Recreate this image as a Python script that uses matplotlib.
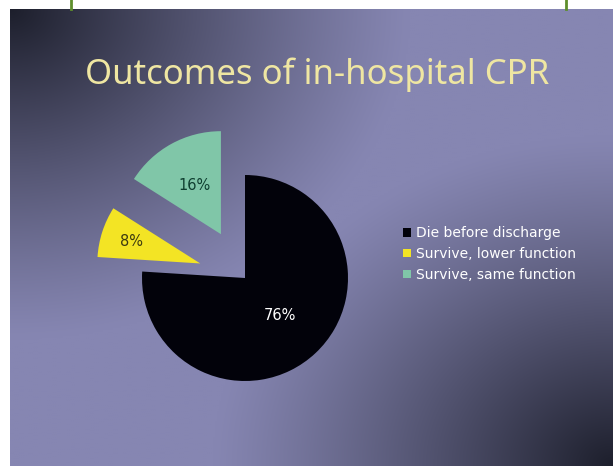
import numpy as np
import matplotlib
matplotlib.use("Agg")
import matplotlib.pyplot as plt
from matplotlib.lines import Line2D

# ---- data ----
title = "Outcomes of in-hospital CPR"
categories = ["Die before discharge", "Survive, lower function", "Survive, same function"]
values = [76, 8, 16]
pct_labels = ["76%", "8%", "16%"]

# ---- style ----
slice_colors = ["#02020a", "#f3e424", "#80c6a8"]
label_colors = ["#ffffff", "#3c3a10", "#0f3f30"]
explode = [0.0, 0.47, 0.5]
label_dist = [0.50, 0.70, 0.54]

W, H = 613, 466
fig = plt.figure(figsize=(W / 100, H / 100), dpi=100)
fig.patch.set_facecolor("white")

# slide background gradient (dark top-left and bottom-right corners)
sx0, sy_top = 10, 9
SW, SH = W - sx0, H - sy_top
bg = fig.add_axes([sx0 / W, 0, SW / W, SH / H])
xs = np.linspace(0, SW, 302)[None, :]
ys = np.linspace(0, SH, 230)[:, None]
Rx, Ry = 400, 330
r1 = np.sqrt((xs / Rx) ** 2 + (ys / Ry) ** 2)
r2 = np.sqrt(((SW - xs) / Rx) ** 2 + ((SH - ys) / Ry) ** 2)
d = np.clip(1 - np.minimum(r1, r2), 0, 1) ** 1.15
light = np.array([0x86, 0x86, 0xb2]) / 255
dark = np.array([0x1d, 0x1f, 0x2c]) / 255
img = light[None, None, :] * (1 - d[..., None]) + dark[None, None, :] * d[..., None]
bg.imshow(img, aspect="auto", extent=[0, 1, 0, 1], interpolation="bilinear")
bg.set_axis_off()

# green frame lines above slide
for gx in (71, 566):
    fig.add_artist(Line2D([gx / W, gx / W], [1, SH / H],
                          color="#5e8e2c", lw=2, transform=fig.transFigure))

# title
fig.text(317 / W, 1 - 75 / H, title, ha="center", va="center",
         color="#efe6a2", fontsize=25, family="Noto Sans")

# pie axes: 100 px per unit, centre at (245, 278) px
cx, cy, half = 245, 278, 220
ax = fig.add_axes([(cx - half) / W, (H - cy - half) / H, 2 * half / W, 2 * half / H])
ax.patch.set_alpha(0)
wedges, _ = ax.pie(values, colors=slice_colors, startangle=90, counterclock=False,
                   explode=explode, radius=1.03,
                   wedgeprops=dict(linewidth=0))
ax.set_xlim(-2.2, 2.2)
ax.set_ylim(-2.2, 2.2)
ax.set_axis_off()

for w, lab, col, ld in zip(wedges, pct_labels, label_colors, label_dist):
    th = np.deg2rad((w.theta1 + w.theta2) / 2)
    x0, y0 = w.center
    ax.text(x0 + ld * w.r * np.cos(th), y0 + ld * w.r * np.sin(th), lab,
            ha="center", va="center", color=col, fontsize=10.5, family="DejaVu Sans")

leg = fig.legend(wedges, categories, loc="upper left",
                 bbox_to_anchor=(403 / W, 1 - 226 / H), frameon=False,
                 handlelength=0.6, handleheight=0.6, handletextpad=0.3,
                 labelspacing=0.5, fontsize=10, labelcolor="white",
                 borderpad=0, borderaxespad=0)

fig.savefig("out.png", dpi=100)
